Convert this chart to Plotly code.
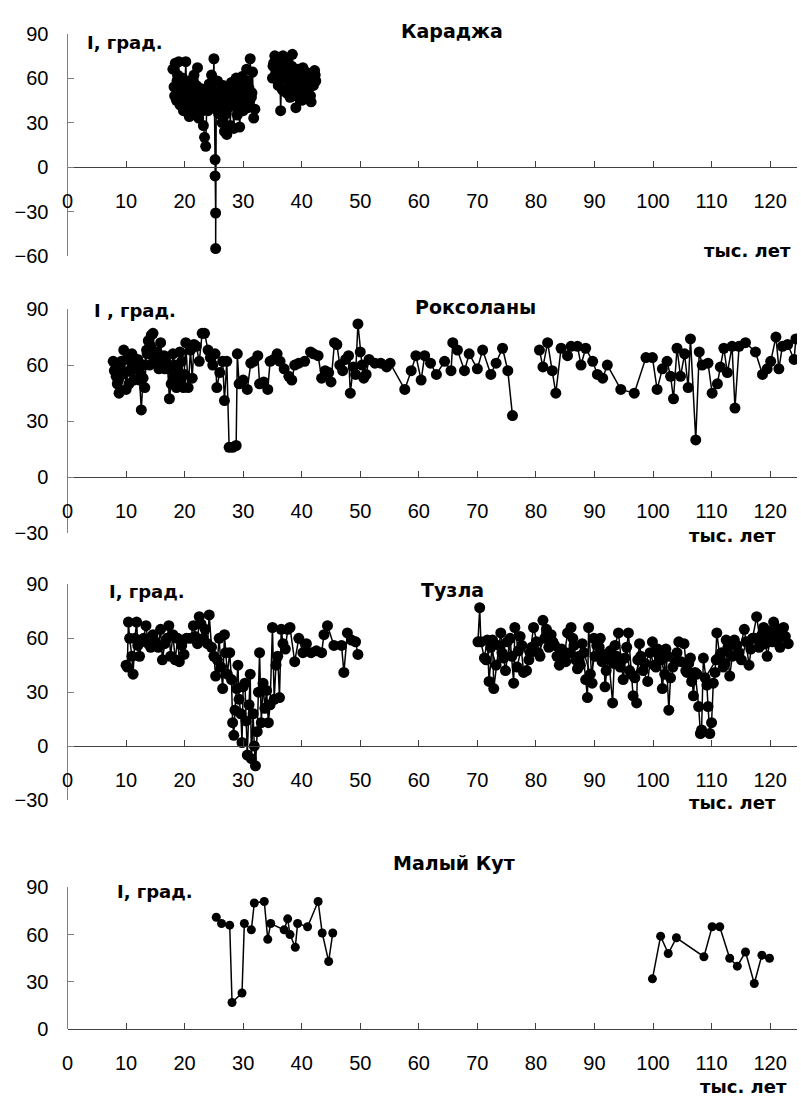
import plotly.graph_objects as go

# ── Караджа ───────────────────────────────────────────────────────────────
KAR_AGE_1 = [18.0, 18.2, 18.4, 18.6, 18.8, 19.0, 19.2, 19.4, 19.6, 19.8,
             20.0, 20.2, 20.4, 20.6, 20.8, 21.0, 21.2, 21.4, 21.6, 21.8,
             22.0, 22.2, 22.4, 22.6, 22.8, 23.0, 23.2, 23.4, 23.6, 23.8,
             24.0, 24.2, 24.4, 24.6, 24.8, 25.0,
             25.1, 25.2, 25.2, 25.3, 25.3, 25.4,
             25.6, 25.8, 26.0, 26.2, 26.4, 26.6, 26.8, 27.0, 27.2, 27.4,
             27.6, 27.8, 28.0, 28.2, 28.4, 28.6, 28.8, 29.0, 29.2, 29.4,
             29.6, 29.8, 30.0, 30.2, 30.4, 30.6, 30.8, 31.0, 31.2, 31.4,
             31.6, 31.8, 32.0]
KAR_INC_1 = [66, 54, 70, 45, 62, 71, 42, 50, 60, 38,
             48, 71, 44, 58, 34, 52, 40, 47, 62, 36,
             55, 67, 33, 48, 41, 52, 28, 20, 14, 44,
             38, 56, 47, 62, 40, 73,
             47, 5, -6, -31, -55, 42,
             58, 36, 51, 45, 30, 55, 24, 46, 22, 40,
             53, 28, 57, 44, 26, 49, 60, 35, 52, 27,
             43, 61, 38, 56, 48, 66, 40, 53, 73, 47,
             64, 33, 39]
KAR_AGE_1B = [18.3, 18.7, 19.1, 19.5, 19.9, 20.3, 20.7, 21.1, 21.5, 21.9,
              22.3, 22.7, 23.1, 23.5, 23.9, 24.3, 24.7, 25.5, 25.9, 26.3,
              26.7, 27.1, 27.5, 27.9, 28.3, 28.7, 29.1, 29.5, 29.9, 30.3,
              30.7, 31.1, 31.5]
KAR_INC_1B = [48, 58, 44, 52, 55, 46, 50, 42, 57, 49,
              45, 53, 38, 47, 51, 44, 56, 50, 41, 48,
              54, 36, 45, 50, 42, 55, 47, 39, 52, 46,
              58, 44, 50]
KAR_AGE_2 = [35.0, 35.2, 35.4, 35.6, 35.8, 36.0, 36.2, 36.4, 36.6, 36.8,
             37.0, 37.2, 37.4, 37.6, 37.8, 38.0, 38.2, 38.4, 38.6, 38.8,
             39.0, 39.2, 39.4, 39.6, 39.8, 40.0, 40.2, 40.4, 40.6, 40.8,
             41.0, 41.2, 41.4, 41.6, 41.8, 42.0, 42.2, 42.4]
KAR_INC_2 = [60, 70, 75, 64, 72, 55, 74, 38, 66, 75,
             62, 68, 50, 72, 58, 47, 64, 76, 55, 60,
             40, 55, 66, 50, 62, 45, 67, 57, 52, 63,
             46, 58, 63, 44, 61, 55, 65, 58]
KAR_AGE_2B = [35.1, 35.5, 35.9, 36.3, 36.7, 37.1, 37.5, 37.9, 38.3, 38.7,
              39.1, 39.5, 39.9, 40.3, 40.7, 41.1, 41.5, 41.9, 42.3]
KAR_INC_2B = [68, 62, 58, 70, 52, 65, 60, 56, 68, 50,
              48, 60, 55, 58, 64, 52, 48, 56, 62]

# ── Роксоланы ─────────────────────────────────────────────────────────────
ROK_AGE_1 = [7.8, 8.0, 8.3, 8.5, 8.8, 9.0, 9.3, 9.6, 10.0, 10.3,
             10.6, 11.0, 11.3, 11.6, 12.0, 12.3, 12.6, 12.9, 13.2, 13.5,
             13.8, 14.0, 14.3, 14.6, 15.0, 15.3, 15.6, 15.9, 16.2, 16.5,
             16.8, 17.1, 17.4, 17.7, 18.0, 18.3, 18.6, 18.9, 19.2, 19.5,
             19.8, 20.2, 20.6, 21.0, 21.3, 21.6, 22.0, 22.5, 23.0, 23.4,
             24.0, 24.4, 24.8, 25.2, 25.5, 26.0, 26.5, 26.8, 27.2, 27.6,
             28.2, 28.8, 29.0, 29.3, 30.0, 30.7, 31.3, 31.8, 32.5, 32.8,
             33.5, 34.2, 34.6, 35.2, 35.8, 36.3, 37.0, 37.8, 38.3, 38.8,
             39.5, 40.5, 41.5, 42.0, 42.8, 43.4, 44.0, 44.6, 45.0, 45.6,
             46.0, 46.5, 47.0, 47.5, 48.0, 48.3, 48.8, 49.2, 49.6, 50.0,
             50.3, 50.6, 51.0, 51.5, 52.5, 53.5, 54.5, 55.1,
             57.6, 58.7, 59.5, 60.4, 61.0, 62.0, 63.0, 64.4, 65.5, 65.8,
             66.6, 67.8, 68.6, 70.0, 70.9, 72.3, 73.2, 74.3, 75.2, 76.0]
ROK_INC_1 = [62, 57, 54, 50, 45, 60, 55, 68, 47, 63,
             57, 66, 52, 60, 63, 52, 36, 53, 48, 68,
             73, 60, 76, 77, 63, 67, 58, 72, 60, 65,
             62, 58, 42, 50, 66, 60, 48, 56, 67, 62,
             48, 72, 48, 68, 53, 71, 70, 62, 77, 77,
             68, 64, 60, 66, 48, 56, 62, 41, 62, 16,
             16, 17, 66, 50, 52, 47, 61, 62, 65, 50,
             51, 47, 62, 63, 66, 62, 58, 54, 52, 60,
             61, 62, 67, 66, 65, 53, 57, 56, 51, 72,
             71, 60, 57, 63, 65, 45, 59, 55, 82, 67,
             60, 53, 55, 63, 61, 61, 59, 61,
             47, 57, 65, 52, 65, 61, 55, 62, 57, 72,
             68, 57, 66, 58, 68, 55, 61, 69, 57, 33]
ROK_AGE_1B = [8.2, 8.7, 9.2, 9.8, 10.5, 11.1, 11.8, 12.5, 13.0, 13.6,
              14.2, 14.8, 15.4, 16.0, 16.6, 17.3, 18.1, 18.8, 19.4, 20.0]
ROK_INC_1B = [58, 52, 62, 56, 50, 62, 58, 55, 60, 66,
              70, 66, 62, 64, 58, 60, 54, 58, 52, 55]
ROK_AGE_2 = [80.6, 81.2, 82.0, 82.8, 83.4, 84.3, 85.4, 86.0, 87.1, 87.7,
             88.5, 89.7, 90.5, 91.4, 92.2, 94.5, 96.8, 98.8, 99.9, 100.7,
             101.6, 102.4, 103.0, 103.5, 104.1, 104.7, 105.4, 106.0, 106.4, 107.3,
             107.9, 108.4, 109.4, 110.1, 111.0, 111.5, 112.1, 112.7, 113.5, 114.0,
             114.7, 115.8, 117.5, 118.7, 119.5, 120.1, 121.0, 121.5, 122.1, 123.0,
             124.1, 124.4]
ROK_INC_2 = [68, 59, 72, 57, 45, 69, 65, 70, 70, 60,
             69, 62, 55, 53, 60, 47, 45, 64, 64, 47,
             58, 62, 54, 42, 69, 54, 66, 48, 74, 20,
             67, 60, 61, 45, 50, 59, 69, 56, 70, 37,
             70, 72, 67, 55, 58, 62, 75, 58, 70, 71,
             63, 74]

# ── Тузла ─────────────────────────────────────────────────────────────────
TUZ_AGE_1 = [10.0, 10.2, 10.4, 10.6, 11.0, 11.2, 11.5, 11.8, 12.0, 12.3,
             12.6, 13.0, 13.4, 13.8, 14.2, 14.6, 15.0, 15.5, 15.9, 16.2,
             16.6, 17.0, 17.3, 17.6, 18.0, 18.4, 18.8, 19.1, 19.5, 19.9,
             20.3, 21.0, 21.5, 21.8, 22.2, 22.5, 22.8, 23.2, 23.5, 23.9,
             24.2, 24.6, 25.0, 25.3, 25.6, 25.9, 26.2, 26.5, 26.8, 27.0,
             27.3, 27.7, 28.0, 28.2, 28.4, 28.6, 28.9, 29.1, 29.3, 29.6,
             29.8, 30.0, 30.3, 30.5, 30.7, 31.0, 31.2, 31.4, 31.7, 31.9,
             32.1, 32.4, 32.6, 32.8, 33.1, 33.4, 33.7, 34.0, 34.3, 34.6,
             35.0, 35.3, 35.6, 35.9, 36.2, 36.5, 36.8, 37.2, 37.6, 38.0,
             38.8, 39.5, 40.2, 40.8, 41.6, 42.5, 43.4, 43.8, 44.4, 45.5,
             46.8, 47.2, 47.8, 48.5, 49.2, 49.6]
TUZ_INC_1 = [45, 44, 69, 60, 50, 40, 60, 69, 56, 50,
             58, 60, 67, 57, 55, 62, 58, 55, 65, 48,
             57, 60, 67, 50, 62, 48, 60, 47, 56, 51,
             60, 60, 67, 61, 57, 72, 68, 60, 65, 57,
             73, 55, 50, 39, 48, 60, 44, 32, 62, 52,
             40, 52, 37, 13, 6, 20, 32, 45, 26, 18,
             2, 33, 35, 14, -5, 23, 40, -7, 18, 0,
             -11, 8, 30, 52, 13, 35, 21, 31, 13, 23,
             66, 26, 45, 50, 27, 65, 57, 54, 65, 66,
             47, 60, 52, 57, 52, 53, 52, 62, 67, 56,
             56, 41, 63, 59, 58, 51]
TUZ_AGE_2 = [70.1, 70.4, 70.6, 71.2, 71.7, 72.0, 72.6, 72.8, 73.7, 74.0,
             74.5, 74.8, 75.6, 76.2, 76.4, 77.0, 77.3, 77.9, 78.4, 79.0,
             79.6, 80.1, 80.7, 81.2, 81.8, 82.6, 83.2, 84.0, 84.9, 85.4,
             86.0, 86.5, 87.1, 87.4, 87.9, 88.5, 88.8, 89.0, 89.6, 89.9,
             90.4, 91.0, 91.6, 91.8, 92.4, 93.1, 93.5, 94.1, 94.6, 94.9,
             95.8, 96.3, 96.6, 97.2, 97.4, 97.7, 98.3, 99.1, 99.9, 100.5,
             101.1, 101.6, 102.2, 102.7, 103.0, 103.9, 104.4, 105.3, 105.8, 106.4,
             106.9, 107.2, 107.8, 108.1, 108.3, 108.6, 109.2, 109.4, 109.7, 110.0,
             110.3, 110.6, 110.9, 111.4, 112.0, 112.5, 113.1, 113.9, 114.7, 115.6,
             116.4, 117.0, 117.7, 118.4, 118.9, 119.5, 120.1, 120.6, 121.2, 121.7,
             122.3, 123.1]
TUZ_INC_2 = [58, 77, 58, 49, 59, 36, 59, 32, 56, 63,
             49, 42, 60, 35, 66, 53, 61, 41, 42, 52,
             66, 58, 50, 70, 65, 62, 56, 45, 51, 63,
             66, 56, 43, 50, 57, 37, 27, 66, 35, 60,
             56, 60, 51, 33, 50, 24, 56, 63, 48, 37,
             63, 40, 28, 24, 48, 57, 42, 36, 58, 44,
             51, 32, 54, 20, 38, 47, 58, 57, 41, 49,
             28, 41, 22, 7, 9, 49, 34, 22, 7, 13,
             35, 41, 63, 50, 44, 59, 39, 59, 52, 65,
             45, 60, 72, 56, 66, 50, 61, 69, 63, 55,
             66, 57]
TUZ_AGE_2B = [71.5, 72.3, 73.2, 74.2, 75.1, 75.9, 76.8, 77.6, 78.8, 79.3,
              80.4, 81.5, 82.2, 82.9, 83.6, 84.4, 85.1, 85.7, 86.3, 86.8,
              87.6, 88.2, 89.3, 90.1, 90.8, 91.3, 92.0, 92.7, 93.3, 93.8,
              94.4, 95.2, 95.5, 96.0, 96.9, 97.9, 98.6, 99.5, 100.2, 100.8,
              101.4, 102.0, 102.5, 103.4, 104.1, 104.8, 105.6, 106.1, 106.6, 107.5,
              108.9, 110.8, 111.7, 112.3, 112.8, 113.5, 114.3, 115.1, 115.9, 116.7,
              117.4, 118.1, 118.6, 119.2, 119.8, 120.4, 120.9, 121.5, 122.0, 122.6]
TUZ_INC_2B = [48, 55, 45, 52, 58, 50, 44, 56, 48, 55,
              52, 60, 55, 58, 50, 54, 47, 52, 60, 48,
              45, 52, 40, 50, 55, 47, 42, 53, 46, 50,
              44, 49, 55, 42, 38, 50, 46, 52, 45, 54,
              48, 40, 50, 44, 52, 47, 42, 46, 36, 40,
              38, 48, 52, 46, 55, 50, 56, 48, 58, 54,
              60, 55, 62, 57, 64, 58, 66, 60, 63, 61]

# ── Малый Кут ─────────────────────────────────────────────────────────────
MK_AGE_1 = [25.4, 26.3, 27.7, 28.1, 29.8, 30.2, 31.4, 31.9, 33.6, 34.2,
            34.7, 37.0, 37.6, 38.0, 38.9, 39.3, 41.0, 42.8, 43.5, 44.6, 45.3]
MK_INC_1 = [71, 67, 66, 17, 23, 67, 63, 80, 81, 57,
            67, 63, 70, 60, 52, 67, 65, 81, 61, 43, 61]
MK_AGE_2 = [99.9, 101.3, 102.6, 104.0, 108.7, 110.1, 111.4, 113.1, 114.4, 115.8,
            117.3, 118.6, 119.9]
MK_INC_2 = [32, 59, 48, 58, 46, 65, 65, 45, 40, 49, 29, 47, 45]

X_TICKS = list(range(0, 121, 10))
SITE_NAMES = ["Караджа", "Роксоланы", "Тузла", "Малый Кут"]
Y_LABELS = ["I, град.", "I , град.", "I, град.", "I, град."]
X_LABEL = "тыс. лет"

SERIES = [
    [(KAR_AGE_1, KAR_INC_1), (KAR_AGE_1B, KAR_INC_1B),
     (KAR_AGE_2, KAR_INC_2), (KAR_AGE_2B, KAR_INC_2B)],
    [(ROK_AGE_1, ROK_INC_1), (ROK_AGE_1B, ROK_INC_1B), (ROK_AGE_2, ROK_INC_2)],
    [(TUZ_AGE_1, TUZ_INC_1), (TUZ_AGE_2, TUZ_INC_2), (TUZ_AGE_2B, TUZ_INC_2B)],
    [(MK_AGE_1, MK_INC_1), (MK_AGE_2, MK_INC_2)],
]
for group in SERIES:
    for a, b in group:
        assert len(a) == len(b), (len(a), len(b))

# ── Layout geometry (pixels) ──────────────────────────────────────────────
W, H = 801, 1107
FONT = "Liberation Sans, Arial, sans-serif"
BOLD_FONT = "DejaVu Sans, Liberation Sans, sans-serif"
X_LEFT, X_RIGHT = 62, 797
X_MAX = 124.6

PANELS = [
    dict(top=23, bottom=250, yr=(-60, 90), ms=11),
    dict(top=304, bottom=533, yr=(-30, 90), ms=11),
    dict(top=585, bottom=805, yr=(-30, 90), ms=11),
    dict(top=894, bottom=1039, yr=(0, 90), ms=9),
]
# (title centre x, title y, y-label left x, y-label y, x-label right x, x-label y)
LABEL_POS = [
    (449, 20, 80, 32, 793, 244),
    (473, 302, 87, 306, 778, 535),
    (450, 591, 102, 592, 778, 808),
    (451, 869, 110, 898, 789, 1097),
]


def fy(p):
    return 1 - p / H


def fx(p):
    return p / W


fig = go.Figure()
layout = dict(
    width=W, height=H,
    margin=dict(l=0, r=0, t=0, b=0),
    paper_bgcolor="white", plot_bgcolor="white",
    showlegend=False,
    font=dict(family=FONT, size=20, color="black"),
    annotations=[],
)

for i, (p, series) in enumerate(zip(PANELS, SERIES)):
    n = "" if i == 0 else str(i + 1)
    for ages, incs in series:
        fig.add_trace(go.Scatter(
            x=ages, y=incs, mode="lines+markers",
            line=dict(color="black", width=1.5),
            marker=dict(color="black", size=p["ms"]),
            xaxis="x" + n, yaxis="y" + n,
        ))
    y0, y1 = p["yr"]
    zero_px = p["top"] + y1 / (y1 - y0) * (p["bottom"] - p["top"])
    layout["xaxis" + n] = dict(
        domain=[fx(X_LEFT), fx(X_RIGHT)], range=[0, X_MAX],
        anchor="free", position=fy(zero_px),
        tickvals=X_TICKS, ticks="inside", ticklen=6, tickcolor="#404040",
        showline=True, linecolor="#404040", linewidth=1.2,
        showgrid=False, zeroline=False, ticklabelstandoff=16,
        tickfont=dict(size=20),
    )
    layout["yaxis" + n] = dict(
        domain=[fy(p["bottom"]), fy(p["top"])], range=[y0, y1],
        anchor="x" + n,
        tickvals=list(range(y0, y1 + 1, 30)), ticks="inside", ticklen=6,
        tickcolor="#808080", showline=True, linecolor="#808080", linewidth=1.2,
        showgrid=False, zeroline=False, ticklabelstandoff=14,
        tickfont=dict(size=20),
    )
    tx, ty, lx, ly, ux, uy = LABEL_POS[i]
    layout["annotations"] += [
        dict(text="<b>" + SITE_NAMES[i] + "</b>", x=fx(tx), y=fy(ty),
             xref="paper", yref="paper", xanchor="center", yanchor="middle",
             showarrow=False, font=dict(family=BOLD_FONT, size=19)),
        dict(text="<b>" + Y_LABELS[i] + "</b>", x=fx(lx), y=fy(ly),
             xref="paper", yref="paper", xanchor="left", yanchor="middle",
             showarrow=False, font=dict(family=BOLD_FONT, size=18)),
        dict(text="<b>" + X_LABEL + "</b>", x=fx(ux), y=fy(uy),
             xref="paper", yref="paper", xanchor="right", yanchor="middle",
             showarrow=False, font=dict(family=BOLD_FONT, size=18)),
    ]

fig.update_layout(**layout)
fig.write_html("out.html", config={"displayModeBar": False},
               post_script="document.body.style.margin='0';")
